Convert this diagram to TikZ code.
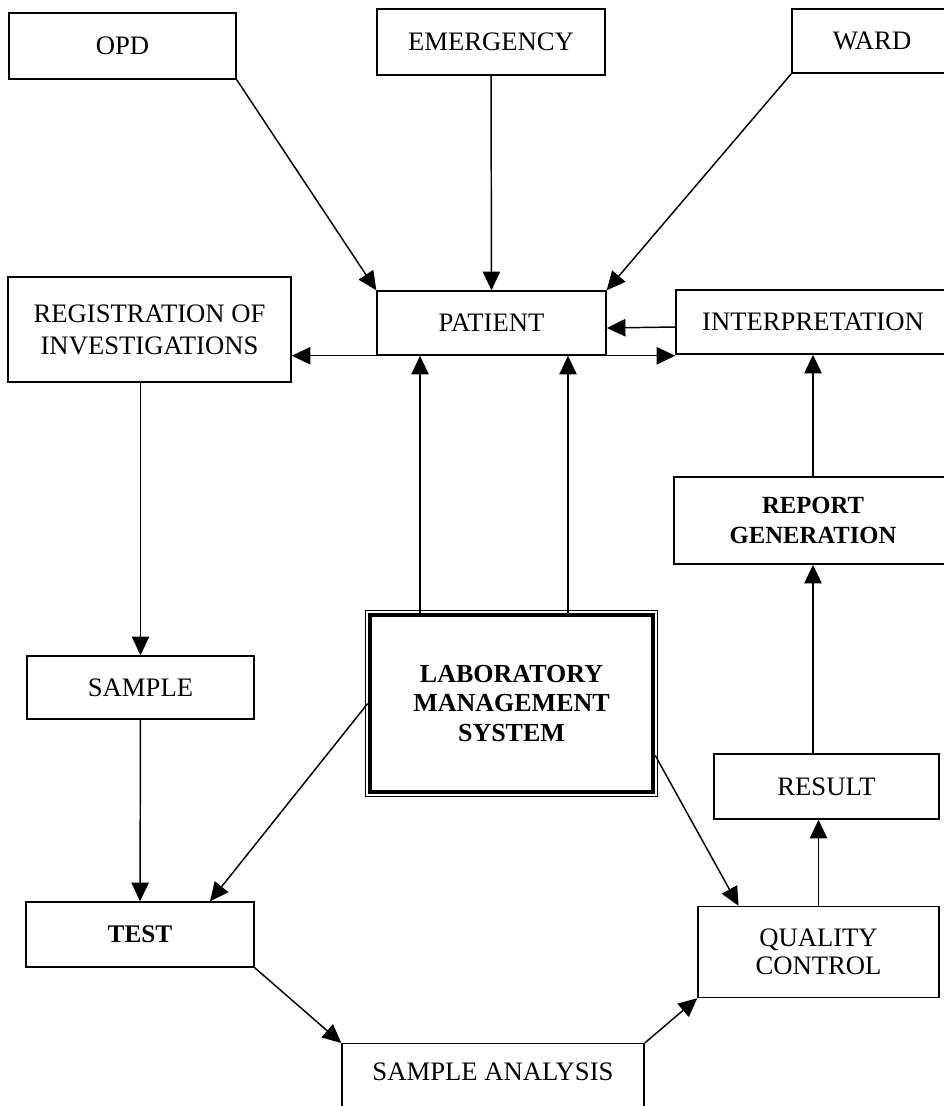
\documentclass[tikz,border=0pt]{standalone}
\usepackage{fontspec}
\setmainfont{Liberation Serif}
\usetikzlibrary{arrows.meta}

\begin{document}
\begin{tikzpicture}[x=0.75pt,y=-0.75pt,>={Triangle[length=14pt,width=13pt]},
                    line width=1.1pt,
                    box/.style={draw,rectangle,inner sep=0pt,
                                font=\fontsize{20pt}{24pt}\selectfont}]
  \useasboundingbox (0,0) rectangle (944,1106);
  \clip (0,0) rectangle (944,1106);
  \node[box,minimum width=170.25pt,minimum height=49.5pt] (opd) at (122.5,46) {OPD};
  \node[box,minimum width=171pt,minimum height=49.5pt] (emerg) at (491,42) {EMERGENCY};
  \node[box,minimum width=120pt,minimum height=48pt] (ward) at (872,41) {WARD};
  \node[box,minimum width=171.75pt,minimum height=48pt] (patient) at (491.5,323) {PATIENT};
  \node[box,minimum width=205.5pt,minimum height=48pt] (interp) at (813,322) {INTERPRETATION};
  \node[box,align=center,minimum width=212.25pt,minimum height=78.75pt] (reg) at (149.5,329.5)
       {REGISTRATION OF\\INVESTIGATIONS};
  \node[box,minimum width=170.25pt,minimum height=47.25pt] (sample) at (140.5,687.5) {SAMPLE};
  \node[box,minimum width=171pt,minimum height=48.75pt,font=\fontsize{19pt}{24pt}\selectfont\bfseries]
       (test) at (140,934.5) {TEST};
  \node[box,align=center,line width=3.4pt,minimum width=212.25pt,minimum height=132.75pt,
        font=\fontsize{19.5pt}{22pt}\selectfont\bfseries] (lms) at (511.5,703.5)
       {LABORATORY\\MANAGEMENT\\SYSTEM};
  \draw[line width=0.8pt] ([shift={(-2pt,2pt)}]lms.north west) rectangle ([shift={(2pt,-2pt)}]lms.south east);
  \node[box,anchor=north,minimum width=226.5pt,inner ysep=14pt,text depth=40pt] (sa) at (493,1043)
       {SAMPLE ANALYSIS};
  \node[box,minimum width=168.75pt,minimum height=48.75pt] (result) at (826.5,786.5) {RESULT};
  \node[box,align=center,minimum width=180.75pt,minimum height=68.25pt,
        font=\fontsize{20pt}{21pt}\selectfont] (qc) at (818.5,952) {QUALITY\\CONTROL};
  \node[box,align=center,minimum width=208.5pt,minimum height=65.25pt,
        font=\fontsize{18.5pt}{23pt}\selectfont\bfseries] (rep) at (813,520.5) {REPORT\\GENERATION};

  \path[->]
    (opd.south east) edge (patient.north west)
    (emerg) edge (patient)
    (ward.south west) edge (patient.north east)
    ([yshift=-3.75pt]interp.west) edge ([yshift=-3.75pt]patient.east)
    (sample.north |- reg.south) edge (sample)
    (sample) edge (test)
    (lms.west) edge ([xshift=52.5pt]test.north)
    ([yshift=-39pt]lms.east) edge ([xshift=-60pt]qc.north)
    (test.south east) edge (sa.north west)
    (sa.north east) edge (qc.south west)
    (qc.north) edge (qc.north |- result.south)
    (rep.south |- result.north) edge (rep.south)
    (rep) edge (interp)
    ([xshift=-68.6pt]lms.north) edge ([xshift=-68.6pt]lms.north |- patient.south)
    ([xshift=42.4pt]lms.north) edge ([xshift=42.4pt]lms.north |- patient.south);
  \draw[<->] (patient.south -| reg.east) -- (patient.south -| interp.west);
\end{tikzpicture}
\end{document}
